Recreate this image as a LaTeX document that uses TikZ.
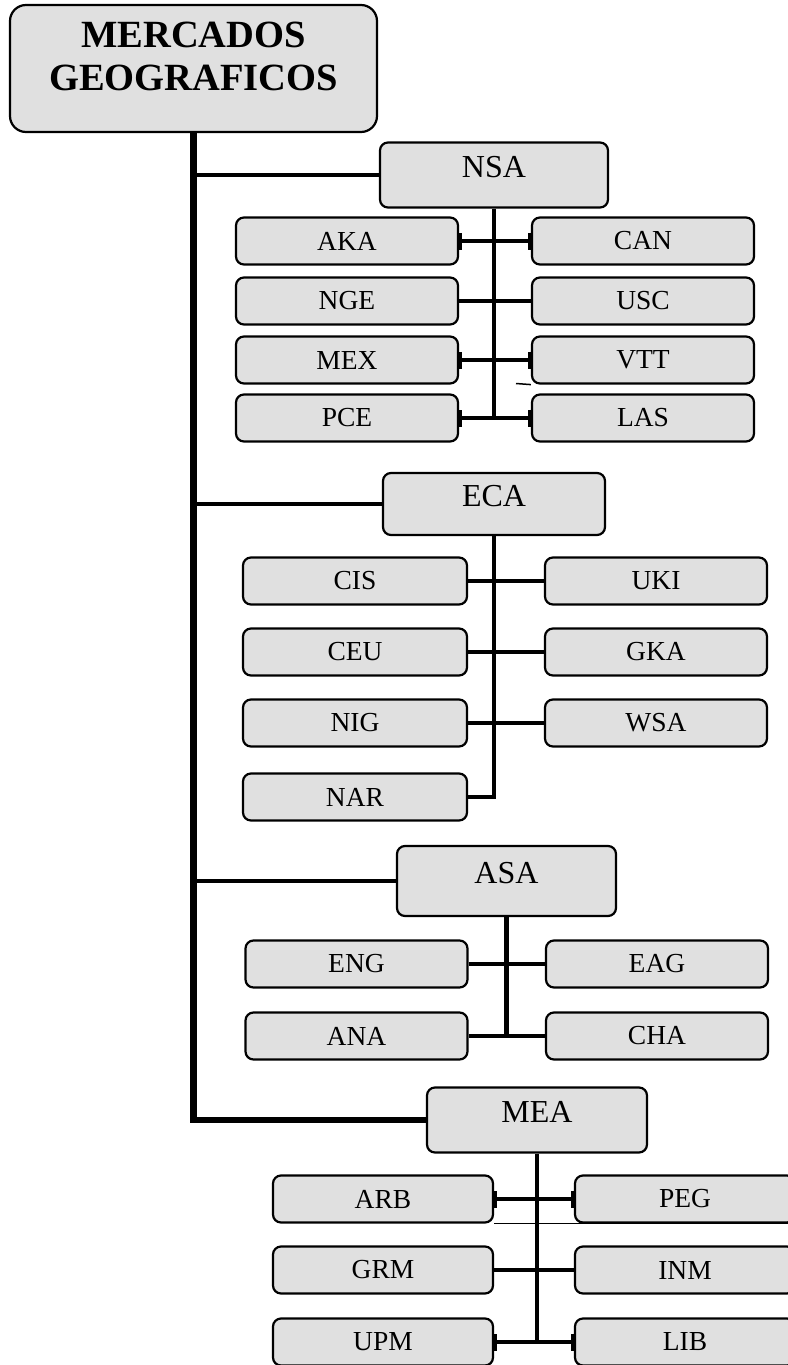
\documentclass[tikz,border=0pt]{standalone}
\usepackage{fontspec}
\setmainfont{Liberation Serif}
\usetikzlibrary{arrows.meta}
\begin{document}
\begin{tikzpicture}[x=1pt,y=-1pt,
    box/.style={draw, line width=2.2pt, rounded corners=8pt, fill=black!12, inner sep=0pt},
    sub/.style={box, minimum width=222pt, minimum height=47pt, font=\fontsize{27.5}{30}\selectfont},
    region/.style={box, minimum height=65pt, font=\fontsize{32}{34}\selectfont, text depth=16pt},
    link/.style={line width=4.5pt},
    barred/.style={link, {Bar[width=17pt,line width=2.8pt]}-{Bar[width=17pt,line width=2.8pt]}}]
    \useasboundingbox (0,0) rectangle (787,1365);

    \node[box, rounded corners=16pt, minimum width=367pt, minimum height=127pt, align=center,
      font=\bfseries\fontsize{38.5}{43}\selectfont] (root) at (193.5,68.5)
      {MERCADOS\\GEOGRAFICOS\rule[-24pt]{0pt}{0pt}};

    % NSA
    \node[region, minimum width=228pt] (nsa) at (494,175) {NSA};
    \node[sub] (aka) at (347,241) {AKA};
    \node[sub] (nge) at (347,301) {NGE};
    \node[sub] (mex) at (347,360) {MEX};
    \node[sub] (pce) at (347,418) {PCE};
    \node[sub] (can) at (643,241) {CAN};
    \node[sub] (usc) at (643,301) {USC};
    \node[sub] (vtt) at (643,360) {VTT};
    \node[sub] (las) at (643,418) {LAS};

    % ECA
    \node[region, minimum width=222pt, minimum height=62pt] (eca) at (494,504) {ECA};
    \node[sub, minimum width=224pt] (cis) at (355,581) {CIS};
    \node[sub, minimum width=224pt] (ceu) at (355,652) {CEU};
    \node[sub, minimum width=224pt] (nig) at (355,723) {NIG};
    \node[sub, minimum width=224pt] (nar) at (355,797) {NAR};
    \node[sub] (uki) at (656,581) {UKI};
    \node[sub] (gka) at (656,652) {GKA};
    \node[sub] (wsa) at (656,723) {WSA};

    % ASA
    \node[region, minimum width=219pt, minimum height=70pt] (asa) at (506.5,881) {ASA};
    \node[sub] (eng) at (356.5,964) {ENG};
    \node[sub] (ana) at (356.5,1036) {ANA};
    \node[sub] (eag) at (657,964) {EAG};
    \node[sub] (cha) at (657,1036) {CHA};

    % MEA
    \node[region, minimum width=220pt] (mea) at (537,1120) {MEA};
    \node[sub, minimum width=220pt] (arb) at (383,1199) {ARB};
    \node[sub, minimum width=220pt] (grm) at (383,1270) {GRM};
    \node[sub, minimum width=220pt] (upm) at (383,1342) {UPM};
    \node[sub, minimum width=220pt] (peg) at (685,1199) {PEG};
    \node[sub, minimum width=220pt] (inm) at (685,1270) {INM};
    \node[sub, minimum width=220pt] (lib) at (685,1342) {LIB};

    % trunk and branches
    \draw[line width=6.5pt] (root.south) |- (mea.west);
    \draw[link] (root.south |- nsa.west) -- (nsa.west);
    \draw[link] (root.south |- eca.west) -- (eca.west);
    \draw[link] (root.south |- asa.west) -- (asa.west);

    % spines
    \draw[link] (nsa.south) -- (nsa.south |- pce.east);
    \draw[link] (eca.south) |- (nar.east);
    \draw[link] (asa.south) -- (asa.south |- ana.east);
    \draw[link] (mea.south) -- (mea.south |- upm.east);

    % rows
    \draw[barred] (aka.east) -- (can.west);
    \draw[link] (nge.east) -- (usc.west);
    \draw[barred] (mex.east) -- (vtt.west);
    \draw[barred] (pce.east) -- (las.west);
    \draw[link] (cis.east) -- (uki.west);
    \draw[link] (ceu.east) -- (gka.west);
    \draw[link] (nig.east) -- (wsa.west);
    \draw[link] (eng.east) -- (eag.west);
    \draw[link] (ana.east) -- (cha.west);
    \draw[barred] (arb.east) -- (peg.west);
    \draw[link] (grm.east) -- (inm.west);
    \draw[barred] (upm.east) -- (lib.west);

    % stray edges
    \coordinate (vttedge) at (516,383.5);
    \draw[line width=1.5pt] (vttedge) -- (vtt.south west);
    \draw[line width=1.5pt] (arb.south east) -- (peg.south east);
  \end{tikzpicture}
\end{document}
